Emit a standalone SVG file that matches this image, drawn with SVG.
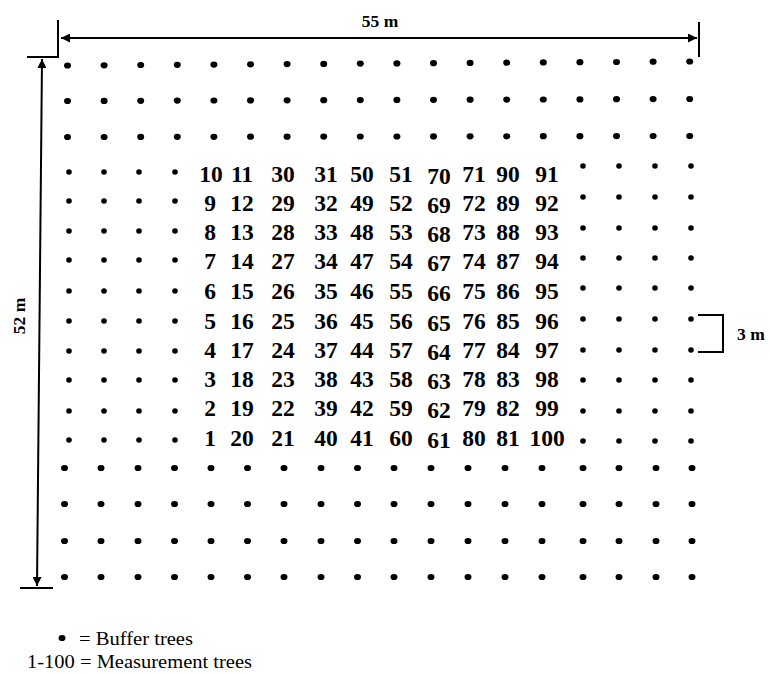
<svg xmlns="http://www.w3.org/2000/svg" width="769" height="673" viewBox="0 0 769 673">
<style>
.ln{stroke:#000;stroke-width:2;fill:none}
.dim{font-family:"Liberation Serif","Times New Roman",serif;font-weight:bold;font-size:17.5px;fill:#000}
.num{font-family:"Liberation Serif","Times New Roman",serif;font-weight:bold;font-size:23.5px;fill:#000;text-anchor:middle}
.leg{font-family:"Liberation Serif","Times New Roman",serif;font-size:18.5px;fill:#000}
.b{fill:#000}
</style>
<defs>
<marker id="ah" viewBox="0 0 10 10" refX="10" refY="5" markerWidth="9" markerHeight="9" markerUnits="userSpaceOnUse" orient="auto-start-reverse">
<path d="M0,0 L10,5 L0,10 z" fill="#000"/>
</marker>
<ellipse id="d" rx="3.5" ry="3.1" class="b"/>
<circle id="s" r="2.8" class="b"/>
</defs>
<rect width="769" height="673" fill="#fff"/>

<g id="dimensions">
<path class="ln" d="M58,20 V57 H27"/>
<path class="ln" d="M699,22 V57"/>
<line class="ln" x1="61" y1="38" x2="697" y2="38" marker-start="url(#ah)" marker-end="url(#ah)"/>
<text class="dim" x="380" y="27" text-anchor="middle">55 m</text>
<path class="ln" d="M20,588 H53"/>
<line class="ln" x1="42" y1="59" x2="37" y2="586" marker-start="url(#ah)" marker-end="url(#ah)"/>
<text class="dim" x="0" y="0" text-anchor="middle" transform="translate(25,316) rotate(-90)">52 m</text>
<path class="ln" d="M698,315 H723 V352 H698"/>
<text class="dim" x="737" y="340">3 m</text>
</g>

<g id="buffer-top">
<use href="#d" x="67.5" y="65.5"/><use href="#d" x="104.1" y="65.3"/><use href="#d" x="140.7" y="65"/><use href="#d" x="177.3" y="64.8"/><use href="#d" x="213.9" y="64.6"/><use href="#d" x="250.5" y="64.3"/><use href="#d" x="287.1" y="64.1"/><use href="#d" x="323.7" y="63.9"/><use href="#d" x="360.3" y="63.6"/><use href="#d" x="396.9" y="63.4"/><use href="#d" x="433.5" y="63.2"/><use href="#d" x="470.1" y="62.9"/><use href="#d" x="506.7" y="62.7"/><use href="#d" x="543.3" y="62.4"/><use href="#d" x="579.9" y="62.2"/><use href="#d" x="616.5" y="62"/><use href="#d" x="653.1" y="61.7"/><use href="#d" x="689.7" y="61.5"/>
<use href="#d" x="67.5" y="101"/><use href="#d" x="104.1" y="100.9"/><use href="#d" x="140.7" y="100.8"/><use href="#d" x="177.3" y="100.6"/><use href="#d" x="213.9" y="100.5"/><use href="#d" x="250.5" y="100.4"/><use href="#d" x="287.1" y="100.3"/><use href="#d" x="323.7" y="100.2"/><use href="#d" x="360.3" y="100.1"/><use href="#d" x="396.9" y="99.9"/><use href="#d" x="433.5" y="99.8"/><use href="#d" x="470.1" y="99.7"/><use href="#d" x="506.7" y="99.6"/><use href="#d" x="543.3" y="99.5"/><use href="#d" x="579.9" y="99.4"/><use href="#d" x="616.5" y="99.2"/><use href="#d" x="653.1" y="99.1"/><use href="#d" x="689.7" y="99"/>
<use href="#d" x="67.5" y="137"/><use href="#d" x="104.1" y="137"/><use href="#d" x="140.7" y="136.9"/><use href="#d" x="177.3" y="136.8"/><use href="#d" x="213.9" y="136.8"/><use href="#d" x="250.5" y="136.7"/><use href="#d" x="287.1" y="136.7"/><use href="#d" x="323.7" y="136.6"/><use href="#d" x="360.3" y="136.5"/><use href="#d" x="396.9" y="136.5"/><use href="#d" x="433.5" y="136.4"/><use href="#d" x="470.1" y="136.3"/><use href="#d" x="506.7" y="136.3"/><use href="#d" x="543.3" y="136.2"/><use href="#d" x="579.9" y="136.2"/><use href="#d" x="616.5" y="136.1"/><use href="#d" x="653.1" y="136"/><use href="#d" x="689.7" y="136"/>
</g>

<g id="buffer-left">
<use href="#s" x="69" y="172"/><use href="#s" x="104" y="172"/><use href="#s" x="139" y="172"/><use href="#s" x="175" y="172"/>
<use href="#s" x="69" y="201"/><use href="#s" x="104" y="201"/><use href="#s" x="139" y="201"/><use href="#s" x="175" y="201"/>
<use href="#s" x="69" y="231"/><use href="#s" x="104" y="231"/><use href="#s" x="139" y="231"/><use href="#s" x="175" y="231"/>
<use href="#s" x="69" y="260"/><use href="#s" x="104" y="260"/><use href="#s" x="139" y="260"/><use href="#s" x="175" y="260"/>
<use href="#s" x="69" y="291"/><use href="#s" x="104" y="291"/><use href="#s" x="139" y="291"/><use href="#s" x="175" y="291"/>
<use href="#s" x="69" y="321"/><use href="#s" x="104" y="321"/><use href="#s" x="139" y="321"/><use href="#s" x="175" y="321"/>
<use href="#s" x="69" y="351"/><use href="#s" x="104" y="351"/><use href="#s" x="139" y="351"/><use href="#s" x="175" y="351"/>
<use href="#s" x="69" y="380"/><use href="#s" x="104" y="380"/><use href="#s" x="139" y="380"/><use href="#s" x="175" y="380"/>
<use href="#s" x="69" y="411"/><use href="#s" x="104" y="411"/><use href="#s" x="139" y="411"/><use href="#s" x="175" y="411"/>
<use href="#s" x="69" y="440"/><use href="#s" x="104" y="440"/><use href="#s" x="139" y="440"/><use href="#s" x="175" y="440"/>
</g>

<g id="buffer-right">
<use href="#s" x="583" y="166"/><use href="#s" x="619" y="166"/><use href="#s" x="655" y="166"/><use href="#s" x="691" y="166"/>
<use href="#s" x="583" y="197"/><use href="#s" x="619" y="197"/><use href="#s" x="655" y="197"/><use href="#s" x="691" y="197"/>
<use href="#s" x="583" y="228"/><use href="#s" x="619" y="228"/><use href="#s" x="655" y="228"/><use href="#s" x="691" y="228"/>
<use href="#s" x="583" y="258"/><use href="#s" x="619" y="258"/><use href="#s" x="655" y="258"/><use href="#s" x="691" y="258"/>
<use href="#s" x="583" y="288"/><use href="#s" x="619" y="288"/><use href="#s" x="655" y="288"/><use href="#s" x="691" y="288"/>
<use href="#s" x="583" y="319"/><use href="#s" x="619" y="319"/><use href="#s" x="655" y="319"/><use href="#s" x="691" y="319"/>
<use href="#s" x="583" y="350"/><use href="#s" x="619" y="350"/><use href="#s" x="655" y="350"/><use href="#s" x="691" y="350"/>
<use href="#s" x="583" y="380"/><use href="#s" x="619" y="380"/><use href="#s" x="655" y="380"/><use href="#s" x="691" y="380"/>
<use href="#s" x="583" y="411"/><use href="#s" x="619" y="411"/><use href="#s" x="655" y="411"/><use href="#s" x="691" y="411"/>
<use href="#s" x="583" y="441"/><use href="#s" x="619" y="441"/><use href="#s" x="655" y="441"/><use href="#s" x="691" y="441"/>
</g>

<g id="buffer-bottom">
<use href="#d" x="64.5" y="468"/><use href="#d" x="101" y="468"/><use href="#d" x="138" y="468"/><use href="#d" x="174.5" y="468"/><use href="#d" x="211" y="468"/><use href="#d" x="247.5" y="468"/><use href="#d" x="284" y="468"/><use href="#d" x="321" y="468"/><use href="#d" x="357.5" y="468"/><use href="#d" x="394" y="468"/><use href="#d" x="431" y="468"/><use href="#d" x="468" y="468"/><use href="#d" x="505" y="468"/><use href="#d" x="542" y="468"/><use href="#d" x="583" y="468"/><use href="#d" x="619" y="468"/><use href="#d" x="656" y="468"/><use href="#d" x="692" y="468"/>
<use href="#d" x="64.5" y="504"/><use href="#d" x="101" y="504"/><use href="#d" x="138" y="504"/><use href="#d" x="174.5" y="504"/><use href="#d" x="211" y="504"/><use href="#d" x="247.5" y="504"/><use href="#d" x="284" y="504"/><use href="#d" x="321" y="504"/><use href="#d" x="357.5" y="504"/><use href="#d" x="394" y="504"/><use href="#d" x="431" y="504"/><use href="#d" x="468" y="504"/><use href="#d" x="505" y="504"/><use href="#d" x="542" y="504"/><use href="#d" x="583" y="504"/><use href="#d" x="619" y="504"/><use href="#d" x="656" y="504"/><use href="#d" x="692" y="504"/>
<use href="#d" x="64.5" y="541"/><use href="#d" x="101" y="541"/><use href="#d" x="138" y="541"/><use href="#d" x="174.5" y="541"/><use href="#d" x="211" y="541"/><use href="#d" x="247.5" y="541"/><use href="#d" x="284" y="541"/><use href="#d" x="321" y="541"/><use href="#d" x="357.5" y="541"/><use href="#d" x="394" y="541"/><use href="#d" x="431" y="541"/><use href="#d" x="468" y="541"/><use href="#d" x="505" y="541"/><use href="#d" x="542" y="541"/><use href="#d" x="583" y="541"/><use href="#d" x="619" y="541"/><use href="#d" x="656" y="541"/><use href="#d" x="692" y="541"/>
<use href="#d" x="64.5" y="577"/><use href="#d" x="101" y="577"/><use href="#d" x="138" y="577"/><use href="#d" x="174.5" y="577"/><use href="#d" x="211" y="577"/><use href="#d" x="247.5" y="577"/><use href="#d" x="284" y="577"/><use href="#d" x="321" y="577"/><use href="#d" x="357.5" y="577"/><use href="#d" x="394" y="577"/><use href="#d" x="431" y="577"/><use href="#d" x="468" y="577"/><use href="#d" x="505" y="577"/><use href="#d" x="542" y="577"/><use href="#d" x="583" y="577"/><use href="#d" x="619" y="577"/><use href="#d" x="656" y="577"/><use href="#d" x="692" y="577"/>
</g>

<g id="measurement-trees" class="num">
<text x="211" y="182">10</text><text x="242" y="182">11</text><text x="283" y="182">30</text><text x="326" y="182">31</text><text x="362" y="182">50</text><text x="401" y="182">51</text><text x="439" y="184">70</text><text x="474" y="182">71</text><text x="508" y="182">90</text><text x="547" y="182">91</text>
<text x="210" y="211">9</text><text x="242" y="211">12</text><text x="283" y="211">29</text><text x="326" y="211">32</text><text x="362" y="211">49</text><text x="401" y="211">52</text><text x="439" y="213">69</text><text x="474" y="211">72</text><text x="508" y="211">89</text><text x="547" y="211">92</text>
<text x="210" y="240">8</text><text x="242" y="240">13</text><text x="283" y="240">28</text><text x="326" y="240">33</text><text x="362" y="240">48</text><text x="401" y="240">53</text><text x="439" y="242">68</text><text x="474" y="240">73</text><text x="508" y="240">88</text><text x="547" y="240">93</text>
<text x="210" y="269">7</text><text x="242" y="269">14</text><text x="283" y="269">27</text><text x="326" y="269">34</text><text x="362" y="269">47</text><text x="401" y="269">54</text><text x="439" y="271">67</text><text x="474" y="269">74</text><text x="508" y="269">87</text><text x="547" y="269">94</text>
<text x="210" y="299">6</text><text x="242" y="299">15</text><text x="283" y="299">26</text><text x="326" y="299">35</text><text x="362" y="299">46</text><text x="401" y="299">55</text><text x="439" y="301">66</text><text x="474" y="299">75</text><text x="508" y="299">86</text><text x="547" y="299">95</text>
<text x="210" y="329">5</text><text x="242" y="329">16</text><text x="283" y="329">25</text><text x="326" y="329">36</text><text x="362" y="329">45</text><text x="401" y="329">56</text><text x="439" y="331">65</text><text x="474" y="329">76</text><text x="508" y="329">85</text><text x="547" y="329">96</text>
<text x="210" y="358">4</text><text x="242" y="358">17</text><text x="283" y="358">24</text><text x="326" y="358">37</text><text x="362" y="358">44</text><text x="401" y="358">57</text><text x="439" y="360">64</text><text x="474" y="358">77</text><text x="508" y="358">84</text><text x="547" y="358">97</text>
<text x="210" y="387">3</text><text x="242" y="387">18</text><text x="283" y="387">23</text><text x="326" y="387">38</text><text x="362" y="387">43</text><text x="401" y="387">58</text><text x="439" y="389">63</text><text x="474" y="387">78</text><text x="508" y="387">83</text><text x="547" y="387">98</text>
<text x="210" y="416">2</text><text x="242" y="416">19</text><text x="283" y="416">22</text><text x="326" y="416">39</text><text x="362" y="416">42</text><text x="401" y="416">59</text><text x="439" y="418">62</text><text x="474" y="416">79</text><text x="508" y="416">82</text><text x="547" y="416">99</text>
<text x="210" y="446">1</text><text x="242" y="446">20</text><text x="283" y="446">21</text><text x="326" y="446">40</text><text x="362" y="446">41</text><text x="401" y="446">60</text><text x="439" y="448">61</text><text x="474" y="446">80</text><text x="508" y="446">81</text><text x="547" y="446">100</text>
</g>

<g id="legend">
<use href="#d" x="62" y="638"/>
<text class="leg" x="79" y="645" textLength="114" lengthAdjust="spacingAndGlyphs">= Buffer trees</text>
<text class="leg" x="27" y="668" textLength="225" lengthAdjust="spacingAndGlyphs">1-100 = Measurement trees</text>
</g>
</svg>
